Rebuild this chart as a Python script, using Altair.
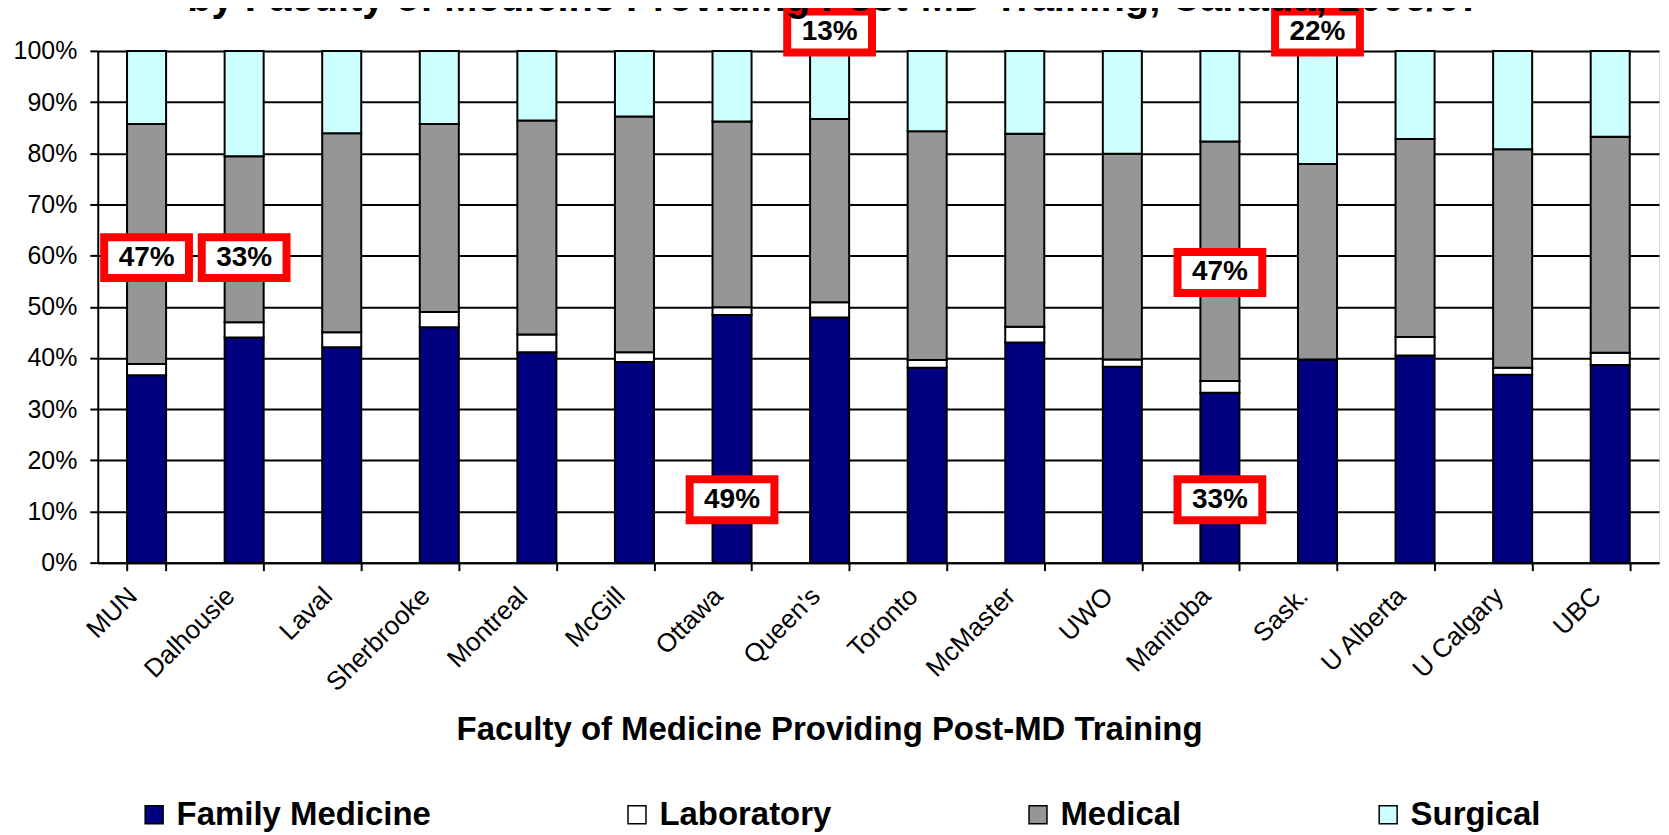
import altair as alt
import pandas as pd

schools = ["MUN", "Dalhousie", "Laval", "Sherbrooke", "Montreal", "McGill", "Ottawa",
           "Queen's", "Toronto", "McMaster", "UWO", "Manitoba", "Sask.", "U Alberta",
           "U Calgary", "UBC"]
categories = ["Family Medicine", "Laboratory", "Medical", "Surgical"]
colors = ["#000080", "#FFFFFF", "#969696", "#CCFFFF"]

family = [36.6, 44.0, 42.1, 46.0, 41.1, 39.2, 48.4, 47.9, 38.1, 43.0, 38.3, 33.2, 39.7, 40.5, 36.7, 38.6]
lab = [2.2, 3.0, 2.9, 3.0, 3.5, 1.9, 1.5, 3.0, 1.5, 3.1, 1.4, 2.3, 0.0, 3.6, 1.4, 2.4]
medical = [46.9, 32.4, 38.9, 36.7, 41.8, 46.1, 36.3, 35.8, 44.7, 37.7, 40.2, 46.8, 38.2, 38.7, 42.7, 42.2]
surgical = [14.3, 20.6, 16.1, 14.3, 13.6, 12.8, 13.8, 13.3, 15.7, 16.2, 20.1, 17.7, 22.1, 17.2, 19.2, 16.8]

ann_school = ["MUN", "Dalhousie", "Ottawa", "Queen's", "Manitoba", "Manitoba", "Sask."]
ann_text = ["47%", "33%", "49%", "13%", "47%", "33%", "22%"]
ann_y = [59.6, 59.6, 12.3, 103.7, 56.7, 12.3, 103.7]

rows = []
for i, s in enumerate(schools):
    for k, vals in enumerate([family, lab, medical, surgical]):
        rows.append({"school": s, "type": categories[k], "value": vals[i], "order": k})
df = pd.DataFrame(rows)
ann = pd.DataFrame({"school": ann_school, "label": ann_text, "value": ann_y})

FONT = "Liberation Sans"
XTITLE = "Faculty of Medicine Providing Post-MD Training"

xaxis = alt.Axis(
    tickBand="extent", labelAngle=-45, labelAlign="right", labelBaseline="middle",
    labelFont=FONT, labelFontSize=26, labelColor="black", labelPadding=21, labelOffset=-14,
    tickSize=8, tickColor="black", tickWidth=2, domainColor="black", domainWidth=2,
    grid=False, titleFont=FONT, titleFontSize=33, titleFontWeight="bold", titleColor="black",
    titleX=733, titleY=177, titleBaseline="alphabetic", labelLimit=0,
)
yaxis = alt.Axis(
    values=list(range(0, 101, 10)), labelExpr="datum.value + '%'",
    labelFont=FONT, labelFontSize=25, labelColor="black", labelPadding=13,
    tickSize=8, tickColor="black", tickWidth=2, domainColor="black", domainWidth=2,
    gridColor="black", gridWidth=2, gridOpacity=1,
)
xscale = alt.Scale(paddingInner=0.6, paddingOuter=0.3)
yscale = alt.Scale(domain=[0, 100], nice=False)

bars = alt.Chart(df).mark_bar(stroke="black", strokeWidth=2, opacity=1).encode(
    x=alt.X("school:N", sort=schools, scale=xscale, title=XTITLE, axis=xaxis),
    y=alt.Y("value:Q", stack="zero", scale=yscale, title=None, axis=yaxis),
    color=alt.Color(
        "type:N",
        scale=alt.Scale(domain=categories, range=colors),
        legend=alt.Legend(
            title=None, orient="none", legendX=40, legendY=749, direction="horizontal",
            columns=4, columnPadding=190, symbolType="square", symbolSize=324,
            symbolStrokeColor="black", symbolStrokeWidth=1.5, symbolOpacity=1,
            labelFont=FONT, labelFontSize=33, labelFontWeight="bold", labelColor="black",
            labelLimit=0, labelOffset=6,
        ),
    ),
    order=alt.Order("order:Q", sort="ascending"),
)

xa = alt.X("school:N", sort=schools, title=XTITLE)
ya = alt.Y("value:Q", title=None)

boxes = alt.Chart(ann).mark_point(
    shape="M-1,-0.482L1,-0.482L1,0.482L-1,0.482Z", size=7225, filled=True,
    fill="white", stroke="#FF0000", strokeWidth=8, opacity=1,
).encode(x=xa, y=ya)

texts = alt.Chart(ann).mark_text(
    font=FONT, fontSize=28, fontWeight="bold", color="black", align="center", baseline="middle",
).encode(x=xa, y=ya, text="label:N")

chart = alt.layer(bars, boxes, texts).properties(
    width=1565, height=513,
    autosize=alt.AutoSizeParams(type="none"),
    padding={"left": 90, "top": 42, "right": 2, "bottom": 270},
    title=alt.TitleParams(
        text="by Faculty of Medicine Providing Post-MD Training, Canada, 2006/07",
        font=FONT, fontSize=40, fontWeight="bold", color="black", anchor="middle",
        frame="group", dx=-44, offset=-55, baseline="alphabetic",
    ),
).configure_view(stroke="black", strokeWidth=2).configure(background="white")

chart.save("out.html", embed_options={"renderer": "svg", "actions": False})
